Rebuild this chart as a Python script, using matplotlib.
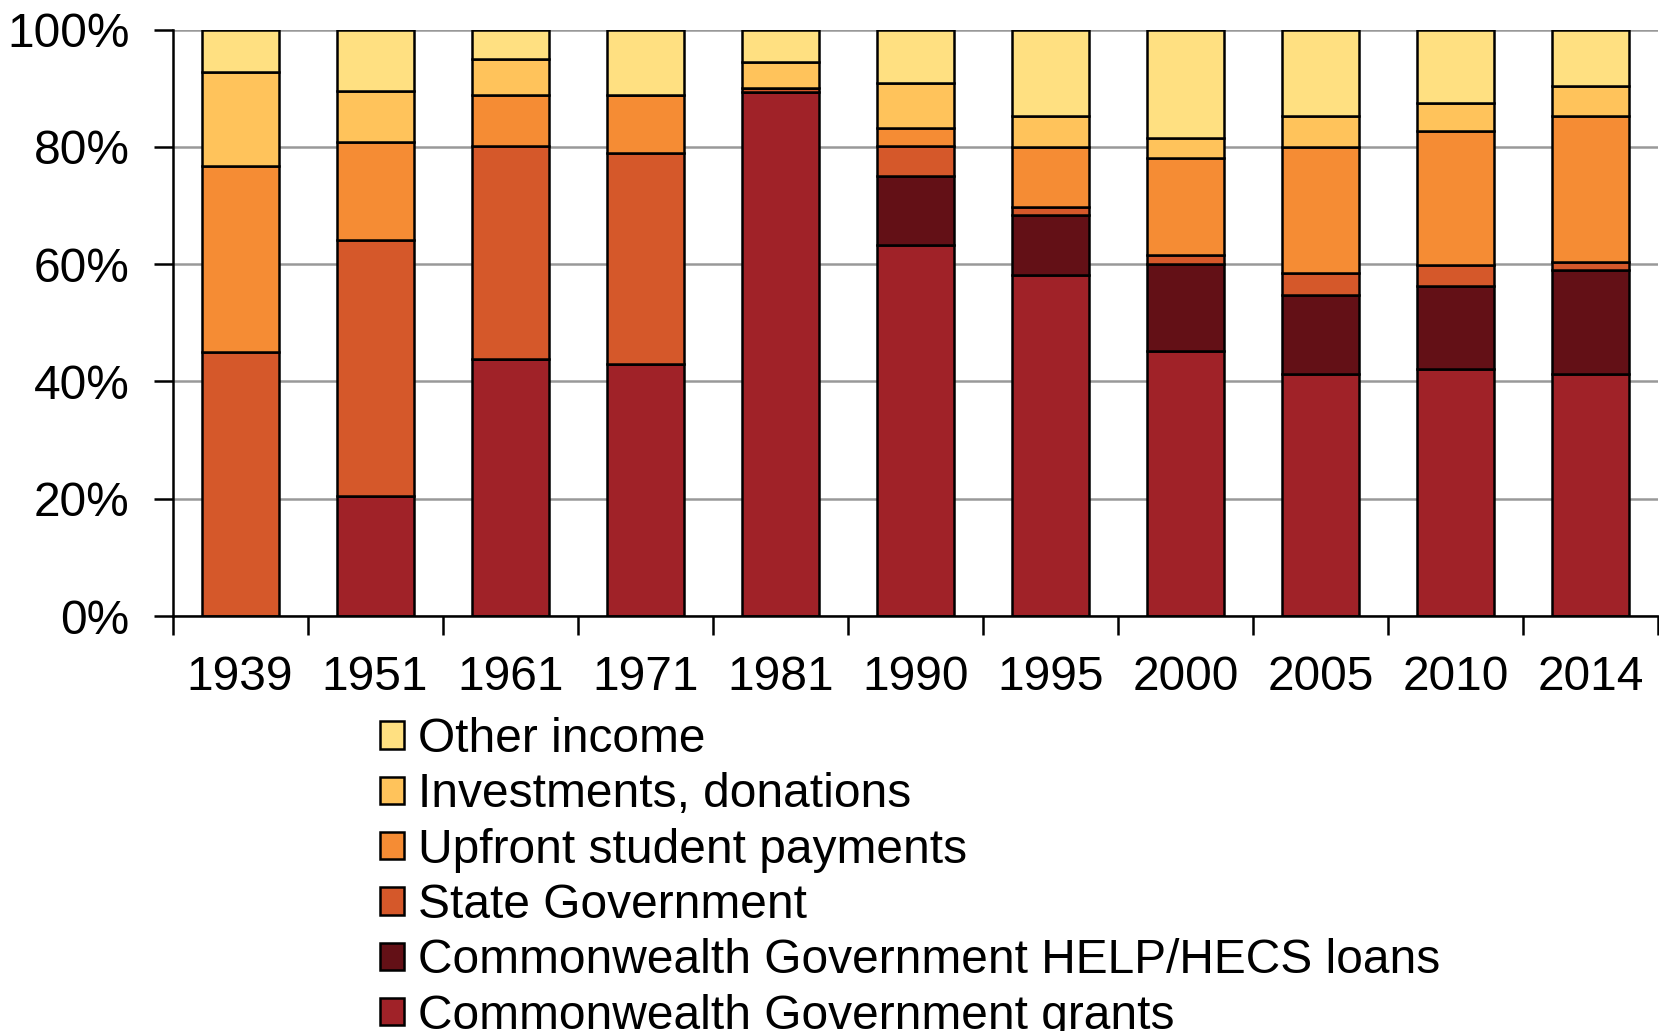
import matplotlib
matplotlib.use("Agg")
import matplotlib.pyplot as plt
import numpy as np
from matplotlib.patches import Patch
from matplotlib.ticker import FixedLocator, PercentFormatter

plt.rcParams['font.family'] = ['Liberation Sans', 'DejaVu Sans']

years = ["1939", "1951", "1961", "1971", "1981", "1990", "1995", "2000", "2005", "2010", "2014"]
grants = [0.0, 20.4, 43.8, 43.0, 89.3, 63.3, 58.2, 45.2, 41.3, 42.2, 41.3]
help_loans = [0.0, 0.0, 0.0, 0.0, 0.0, 11.8, 10.1, 14.9, 13.5, 14.0, 17.7]
state = [45.0, 43.8, 36.4, 36.0, 0.7, 5.0, 1.4, 1.5, 3.7, 3.6, 1.4]
upfront = [31.7, 16.7, 8.6, 9.9, 0.0, 3.2, 10.2, 16.5, 21.5, 22.9, 24.8]
invest = [16.1, 8.7, 6.2, 0.0, 4.5, 7.6, 5.3, 3.4, 5.2, 4.7, 5.1]
other = [7.2, 10.4, 5.0, 11.1, 5.5, 9.1, 14.8, 18.5, 14.8, 12.6, 9.7]

series = [
    ("Commonwealth Government grants", grants, "#A02228"),
    ("Commonwealth Government HELP/HECS loans", help_loans, "#631016"),
    ("State Government", state, "#D5582A"),
    ("Upfront student payments", upfront, "#F58C34"),
    ("Investments, donations", invest, "#FFC35B"),
    ("Other income", other, "#FFE081"),
]

fig = plt.figure(figsize=(16.59, 10.31), dpi=100)
ax = fig.add_axes([0.104, 0.4025, 0.8955, 0.5688])

x = np.arange(len(years))
bottom = np.zeros(len(years))
for name, vals, col in series:
    v = np.array(vals)
    ax.bar(x, v, 0.57, bottom=bottom, color=col, edgecolor="black", linewidth=1.8, zorder=3)
    bottom += v

ax.set_xlim(-0.5, len(years) - 0.5)
ax.set_ylim(0, 100)
ax.set_yticks([0, 20, 40, 60, 80, 100])
ax.yaxis.set_major_formatter(PercentFormatter(decimals=0))
ax.set_xticks(x)
ax.set_xticklabels(years)
ax.xaxis.set_minor_locator(FixedLocator(np.arange(-0.5, len(years), 1.0)))
ax.tick_params(axis='x', which='major', length=0, pad=28, labelsize=34.5)
ax.tick_params(axis='x', which='minor', length=14, width=1.8, direction='out')
ax.tick_params(axis='y', which='major', length=14, width=1.8, pad=17, labelsize=34.5)
ax.grid(axis='y', color="#999999", linewidth=1.8, zorder=0)
for s in ['top', 'right']:
    ax.spines[s].set_visible(False)
for s in ['left', 'bottom']:
    ax.spines[s].set_linewidth(1.8)
    ax.spines[s].set_zorder(4)

handles = [Patch(facecolor=col, edgecolor="black", linewidth=1.8, label=name) for name, _, col in series][::-1]
fig.legend(handles=handles, loc='upper left', bbox_to_anchor=(380 / 1659, 1 - 717 / 1031),
           frameon=False, fontsize=34.5, handlelength=0.5, handleheight=0.5,
           handletextpad=0.3, labelspacing=0.215, borderpad=0, borderaxespad=0)

fig.savefig("out.png", dpi=100)
